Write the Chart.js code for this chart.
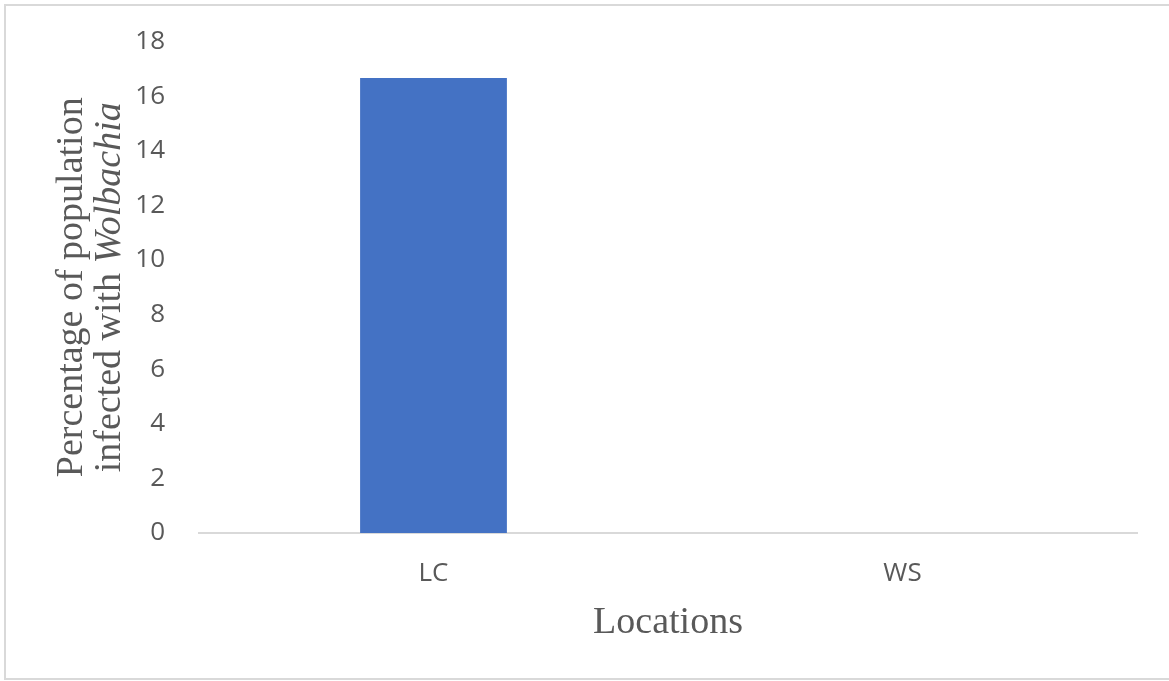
<!DOCTYPE html>
<html>
<head>
<meta charset="utf-8">
<script src="https://cdn.jsdelivr.net/npm/chart.js@4/dist/chart.umd.min.js"></script>
<style>
  html, body { margin: 0; padding: 0; background: #ffffff; }
  #wrap { width: 1169px; height: 681px; position: relative; }
</style>
</head>
<body>
<div id="wrap"><canvas id="chart" width="1169" height="681"></canvas></div>
<script>
// Wolbachia infection rate by sampling location
const locations = ['LC', 'WS'];
const infectedPercent = [16.67, 0];
const yTicks = [0, 2, 4, 6, 8, 10, 12, 14, 16, 18];

const xTitle = 'Locations';
const yTitleLine1 = 'Percentage of population';
const yTitleLine2Plain = 'infected with ';
const yTitleLine2Italic = 'Wolbachia';

const textGray = '#595959';
const axisGray = '#d9d9d9';
const serif = '"Liberation Serif", "Times New Roman", serif';

// Frame, axis titles (the y title mixes upright and italic type)
const titlesPlugin = {
  id: 'titles',
  beforeDraw(chart) {
    const ctx = chart.ctx;
    ctx.save();
    ctx.strokeStyle = axisGray;
    ctx.lineWidth = 2;
    ctx.strokeRect(5, 5, 1200, 674);
    ctx.restore();
  },
  afterDraw(chart) {
    const ctx = chart.ctx;
    const area = chart.chartArea;
    ctx.save();
    ctx.fillStyle = textGray;
    // x title
    ctx.font = '38px ' + serif;
    ctx.textAlign = 'center';
    ctx.textBaseline = 'alphabetic';
    ctx.fillText(xTitle, (area.left + area.right) / 2, 633);

    // y title, rotated
    const cy = (area.top + area.bottom) / 2;
    ctx.translate(0, cy);
    ctx.rotate(-Math.PI / 2);
    ctx.font = '38px ' + serif;
    ctx.textAlign = 'center';
    ctx.fillText(yTitleLine1, 0, 82);

    ctx.textAlign = 'left';
    ctx.font = '38px ' + serif;
    const wPlain = ctx.measureText(yTitleLine2Plain).width;
    ctx.font = 'italic 38px ' + serif;
    const wItalic = ctx.measureText(yTitleLine2Italic).width;
    const start = -(wPlain + wItalic) / 2;
    ctx.font = '38px ' + serif;
    ctx.fillText(yTitleLine2Plain, start, 120);
    ctx.font = 'italic 38px ' + serif;
    ctx.fillText(yTitleLine2Italic, start + wPlain, 120);
    ctx.restore();
  }
};

new Chart(document.getElementById('chart'), {
  type: 'bar',
  data: {
    labels: locations,
    datasets: [{
      data: infectedPercent,
      backgroundColor: '#4472C4',
      borderWidth: 0,
      barPercentage: 0.313,
      categoryPercentage: 1.0
    }]
  },
  options: {
    responsive: false,
    animation: false,
    events: [],
    layout: { padding: { top: 39, right: 32, bottom: 0, left: 0 } },
    plugins: {
      legend: { display: false },
      tooltip: { enabled: false }
    },
    scales: {
      x: {
        grid: { display: false },
        border: { display: true, color: axisGray, width: 2 },
        ticks: {
          color: textGray,
          font: { family: '"Open Sans", sans-serif', size: 26 },
          padding: 17,
          maxRotation: 0
        },
        afterFit(scale) { scale.height = 148; }
      },
      y: {
        min: 0,
        max: 18,
        afterBuildTicks(scale) { scale.ticks = yTicks.map(v => ({ value: v })); },
        grid: { display: false },
        border: { display: false },
        ticks: {
          color: textGray,
          font: { family: '"Open Sans", sans-serif', size: 26 },
          padding: 26
        },
        afterFit(scale) { scale.width = 199; }
      }
    }
  },
  plugins: [titlesPlugin]
});
</script>
</body>
</html>
